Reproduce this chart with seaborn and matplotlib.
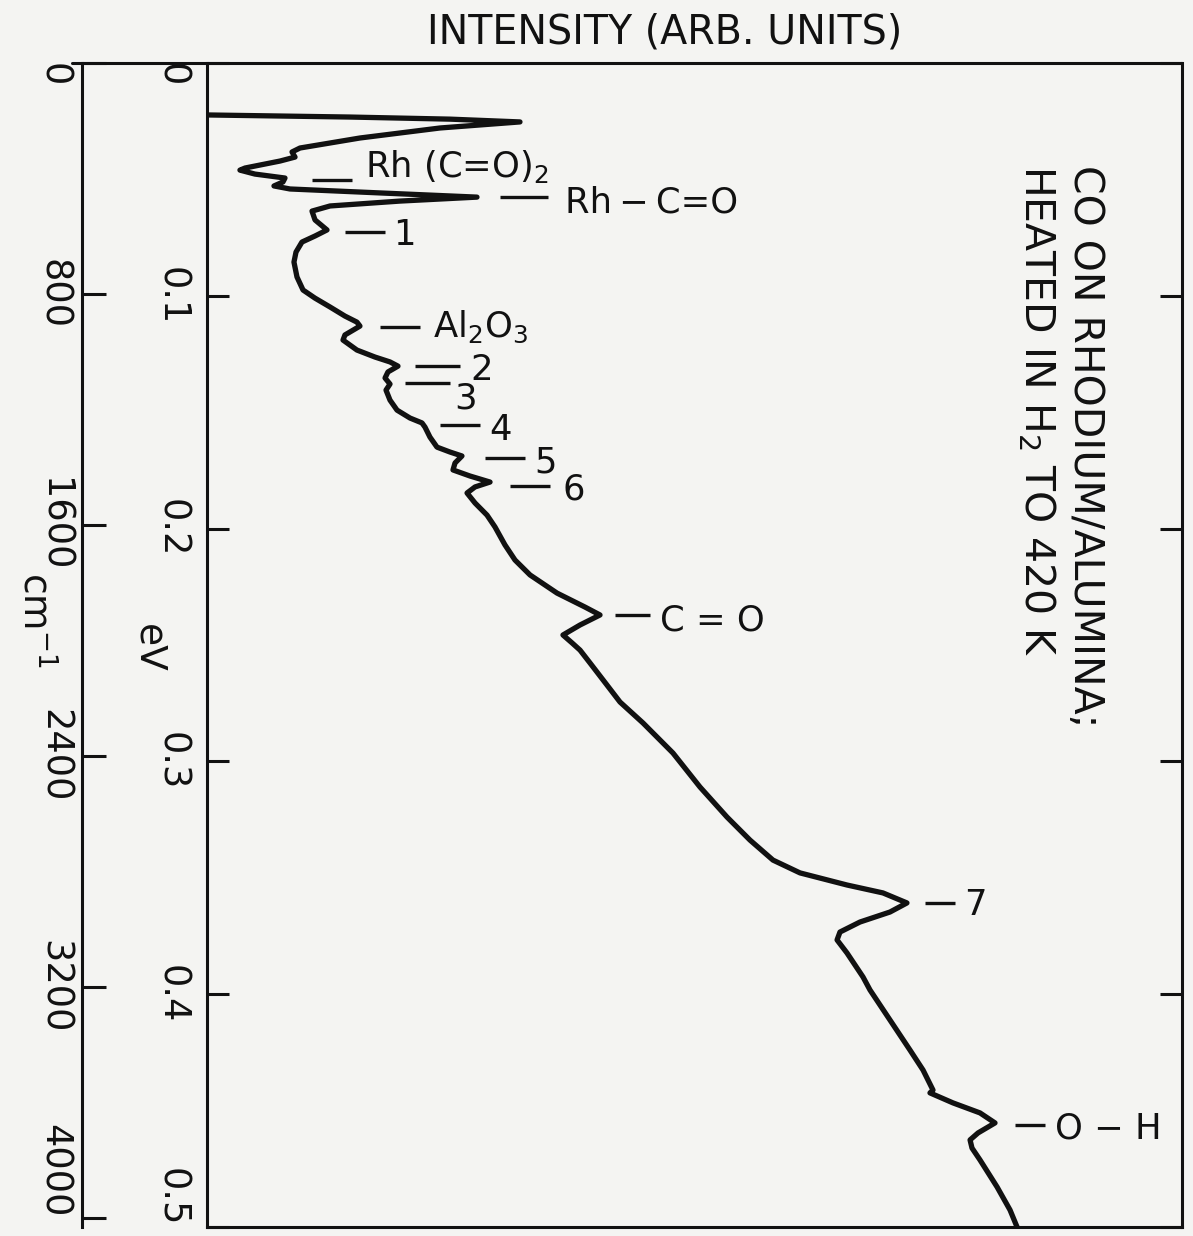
import numpy as np
import matplotlib
matplotlib.use("Agg")
import matplotlib.pyplot as plt
import seaborn as sns

# spectrum: intensity (arb. units, 0-100) vs loss energy (eV)
intensity = [0.00, 14.67, 24.92, 32.10, 23.90, 15.69, 9.54, 8.72, 9.03, 7.49,
             3.90, 3.38, 4.92, 8.00, 7.79, 6.87, 8.51, 17.74, 27.69, 19.79,
             12.62, 10.77, 11.08, 12.31, 11.08, 9.74, 9.13, 8.92, 9.23, 9.85,
             11.08, 12.62, 14.15, 15.38, 15.69, 14.15, 13.95, 15.38, 17.23, 18.77,
             19.59, 18.56, 18.26, 18.77, 18.36, 18.77, 19.49, 20.82, 22.05, 22.36,
             22.87, 23.59, 24.92, 26.15, 25.44, 25.23, 26.97, 29.03, 27.49, 26.67,
             27.49, 28.72, 29.54, 30.56, 31.59, 33.13, 35.90, 38.77, 40.31, 38.26,
             36.51, 37.44, 38.26, 39.28, 40.62, 42.36, 44.72, 47.79, 50.56, 53.33,
             55.69, 58.05, 60.82, 65.64, 69.33, 71.79, 70.05, 66.97, 64.92, 64.62,
             65.64, 67.28, 68.00, 70.05, 72.10, 73.44, 74.46, 74.15, 76.51, 79.28,
             80.82, 79.08, 78.26, 78.46, 79.28, 81.03, 82.36, 83.08]
energy = [0.0223, 0.0232, 0.0241, 0.0253, 0.0279, 0.0322, 0.0365, 0.0382, 0.0404, 0.0421,
          0.0451, 0.0460, 0.0477, 0.0494, 0.0511, 0.0528, 0.0541, 0.0558, 0.0576, 0.0593,
          0.0614, 0.0636, 0.0674, 0.0717, 0.0743, 0.0769, 0.0812, 0.0855, 0.0919, 0.0975,
          0.1010, 0.1048, 0.1087, 0.1113, 0.1130, 0.1168, 0.1190, 0.1233, 0.1263, 0.1284,
          0.1302, 0.1327, 0.1353, 0.1379, 0.1405, 0.1448, 0.1491, 0.1525, 0.1546, 0.1564,
          0.1607, 0.1650, 0.1671, 0.1688, 0.1718, 0.1748, 0.1774, 0.1800, 0.1821, 0.1847,
          0.1890, 0.1942, 0.1993, 0.2070, 0.2135, 0.2199, 0.2277, 0.2337, 0.2371, 0.2414,
          0.2457, 0.2491, 0.2522, 0.2577, 0.2650, 0.2745, 0.2835, 0.2964, 0.3110, 0.3239,
          0.3338, 0.3424, 0.3479, 0.3531, 0.3565, 0.3608, 0.3647, 0.3690, 0.3733, 0.3767,
          0.3823, 0.3926, 0.3982, 0.4111, 0.4240, 0.4326, 0.4412, 0.4424, 0.4467, 0.4510,
          0.4553, 0.4596, 0.4626, 0.4661, 0.4712, 0.4828, 0.4927, 0.5000]

# peak labels: text, dash energy, dash start/end, text x, text baseline energy
peak_labels = [r"Rh (C=O)$_2$", "Rh\u2009\u2212\u2009C=O", "1", r"Al$_2$O$_3$", "2", "3",
               "4", "5", "6", "C = O", "7", "O \u2212 H"]
dash_ev = [0.0503, 0.0576, 0.0726, 0.1134, 0.1302, 0.1375,
           0.1555, 0.1697, 0.1817, 0.2371, 0.3608, 0.4562]
dash_x0 = [10.8, 30.1, 14.2, 17.7, 21.3, 20.3, 23.9, 28.5, 31.1, 41.8, 73.6, 82.9]
dash_x1 = [14.9, 35.0, 18.3, 21.8, 25.9, 24.9, 28.0, 32.6, 35.2, 45.4, 76.7, 85.9]
text_x = [16.2, 36.7, 19.1, 23.2, 27.0, 25.4, 29.0, 33.6, 36.5, 46.5, 77.7, 87.0]
text_ev = [0.0490, 0.0644, 0.0782, 0.1177, 0.1362, 0.1482,
           0.1619, 0.1757, 0.1877, 0.2436, 0.3660, 0.4618]

ev_ticks = [0, 0.1, 0.2, 0.3, 0.4, 0.5]
ev_labels = ["0", "0.1", "0.2", "0.3", "0.4", "0.5"]
cm_ticks = [0, 800, 1600, 2400, 3200, 4000]
cm_labels = ["0", "800", "1600", "2400", "3200", "4000"]
CM_PER_EV = 8065.54

sns.set_style("ticks")
plt.rcParams["font.family"] = ["DejaVu Sans"]
plt.rcParams["mathtext.fontset"] = "dejavusans"
bg = "#f4f4f2"
ink = "#111111"
lw_frame = 2.2

fig = plt.figure(figsize=(11.93, 12.36), dpi=100, facecolor=bg)
ax = fig.add_axes([0.1735, 0.0073, 0.8173, 0.9417])
ax.set_facecolor(bg)

sns.lineplot(x=intensity, y=energy, sort=False, estimator=None,
             color=ink, lw=3.8, ax=ax)

ax.set_xlim(0, 100)
ax.set_ylim(0.5, 0)
ax.set_xticks([])
ax.set_xlabel("")
ax.set_ylabel("")

ax.set_yticks(ev_ticks, labels=ev_labels)
ax.tick_params(axis="y", direction="in", length=16, width=lw_frame,
               left=True, right=True, labelsize=26.5, labelrotation=-90,
               pad=12, colors=ink)
for i, lab in enumerate(ax.get_yticklabels()):
    lab.set_va("top" if i == 0 else "bottom" if i == len(ev_ticks) - 1 else "center")

for side in ["left", "right", "bottom"]:
    ax.spines[side].set_linewidth(lw_frame)
    ax.spines[side].set_color(ink)
ax.spines["top"].set_visible(False)

cm_pos = -0.128
ax.axhline(0, xmin=cm_pos - 0.01, xmax=1, color=ink, lw=lw_frame, clip_on=False)

sec = ax.secondary_yaxis(cm_pos, functions=(lambda e: e * CM_PER_EV,
                                            lambda c: c / CM_PER_EV))
sec.set_yticks(cm_ticks, labels=cm_labels)
sec.tick_params(axis="y", direction="in", length=17, width=lw_frame,
                labelsize=26.5, labelrotation=-90, pad=7, colors=ink)
sec.spines["left"].set_linewidth(lw_frame)
sec.spines["left"].set_color(ink)
for i, lab in enumerate(sec.get_yticklabels()):
    lab.set_va("top" if i == 0 else "bottom" if i == len(cm_ticks) - 1 else "center")

ax.text(-0.0605, 0.497, "eV", transform=ax.transAxes, rotation=-90,
        ha="center", va="center", fontsize=27, color=ink)
ax.text(-0.176, 0.5215, r"cm$^{-1}$", transform=ax.transAxes, rotation=-90,
        ha="center", va="center", fontsize=27, color=ink)

ax.hlines(dash_ev, dash_x0, dash_x1, color=ink, lw=2.4)
for lab, x, e in zip(peak_labels, text_x, text_ev):
    ax.text(x, e, lab, ha="left", va="baseline", fontsize=25.5, color=ink)

ax.text(0.9005, 0.9124, "CO ON RHODIUM/ALUMINA;", transform=ax.transAxes,
        rotation=-90, ha="center", va="top", fontsize=29.5, color=ink)
ax.text(0.851, 0.9124, r"HEATED IN H$_2$ TO 420 K", transform=ax.transAxes,
        rotation=-90, ha="center", va="top", fontsize=29.5, color=ink)

fig.text(0.557, 0.974, "INTENSITY (ARB. UNITS)", ha="center", va="center",
         fontsize=28.5, color=ink)

fig.savefig("out.png", dpi=100, facecolor=bg)
